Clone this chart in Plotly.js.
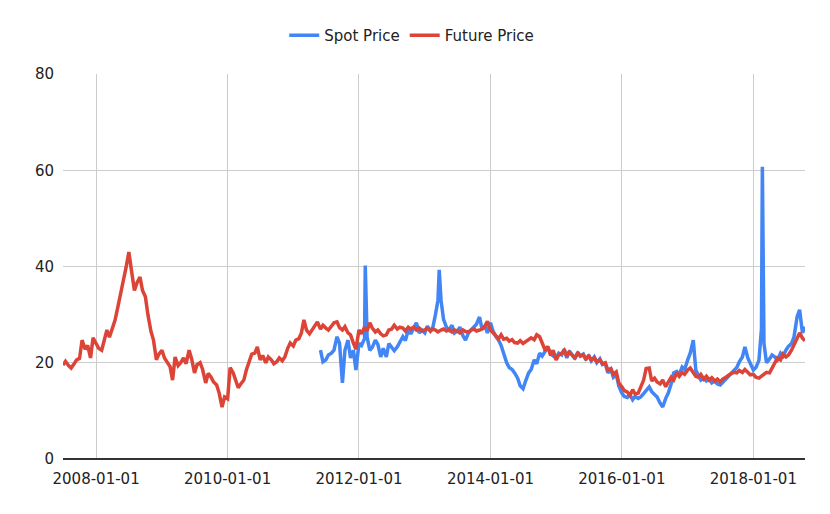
<!DOCTYPE html>
<html>
<head>
<meta charset="utf-8">
<script src="https://cdn.plot.ly/plotly-3.0.1.min.js"></script>
<style>
  html, body { margin: 0; padding: 0; background: #fff; }
  #chart { width: 830px; height: 514px; }
</style>
</head>
<body>
<div id="chart"></div>
<script>
const futureStart = [2007, 7];
const futureValues = [
  19.5, 20.3, 19.4, 18.9, 19.8, 20.6, 20.9, 24.7, 22.8, 23.6, 21.0, 25.2,
  24.0, 23.0, 22.6, 24.8, 26.8, 25.3, 27.4, 28.8, 31.6, 34.5, 37.2, 39.7, 43.0, 39.3, 35.0, 36.6, 37.8, 35.0, 33.7, 30.0, 26.5, 24.7, 20.6, 21.8,
  22.6, 21.0, 20.0, 19.2, 16.4, 21.2, 19.4, 20.0, 21.0, 19.8, 22.6, 20.8, 17.9, 19.6, 20.0, 18.6, 15.8, 17.8, 17.0, 16.0, 15.4, 13.7, 10.8, 12.9,
  12.5, 19.0, 17.9, 16.5, 14.8, 15.6, 16.4, 18.5, 20.0, 21.8, 22.0, 23.3, 20.6, 21.5, 20.0, 21.2, 20.6, 19.8, 20.2, 21.0, 20.4, 21.2, 23.0, 24.1,
  23.5, 24.7, 25.0, 26.2, 28.9, 26.8, 26.0, 26.8, 27.5, 28.5, 27.0, 27.8, 27.2, 26.8, 27.6, 28.3, 28.5, 27.3, 26.8, 27.5, 26.2, 25.8, 24.1, 22.8,
  26.8, 26.0, 27.4, 26.6, 28.3, 27.2, 26.4, 26.8, 26.0, 25.6, 25.8, 26.8, 27.0, 27.8, 27.0, 27.4, 27.2, 26.6, 27.4, 27.0, 27.4, 26.8, 27.2, 26.6,
  26.8, 27.2, 26.6, 27.0, 26.8, 26.4, 26.8, 27.0, 26.6, 26.9, 26.4, 26.8, 26.6, 26.2, 26.8, 26.5, 26.4, 26.8, 27.0, 26.6, 26.8, 27.0, 27.6, 28.6,
  26.8, 26.2, 25.4, 25.0, 25.8, 24.9, 25.1, 24.5, 24.8, 24.2, 24.1, 24.6, 24.0, 24.4, 24.7, 25.2, 24.8, 25.8, 25.4, 24.0, 22.6, 23.4, 21.5, 22.6,
  20.6, 21.6, 22.0, 22.6, 21.4, 22.2, 21.6, 21.0, 22.0, 21.4, 21.6, 20.8, 21.4, 20.6, 21.0, 20.2, 20.6, 19.8, 20.0, 18.5, 18.8, 17.6, 18.1, 15.8,
  15.0, 14.2, 13.9, 13.2, 14.4, 13.5, 13.7, 14.8, 16.4, 18.8, 18.9, 16.2, 16.8, 16.0, 15.6, 16.4, 15.0, 16.0, 17.0, 16.4, 17.9, 17.2, 18.0, 17.6,
  18.5, 18.9, 17.8, 17.2, 17.0, 17.6, 16.6, 17.2, 16.4, 16.9, 16.2, 16.6, 16.0, 16.6, 17.0, 17.4, 17.8, 18.0, 17.9, 18.4, 18.0, 18.6, 18.1, 17.5,
  17.6, 17.0, 16.8, 17.2, 17.6, 18.0, 17.9, 19.0, 20.2, 21.0, 20.6, 21.8, 21.2, 21.6, 22.6, 23.8, 25.4, 26.2, 25.1, 24.6
];

const spotStart = [2011, 6];
const spotValues = [
  22.6, 20.2, 20.6, 21.6, 22.0, 22.6, 25.4, 24.0, 15.8, 22.6, 24.7, 21.0, 22.6, 18.5,
  24.0, 23.6, 25.0, 25.4, 22.6, 23.2, 24.7, 23.8, 21.2, 23.0, 21.2, 24.0, 23.3, 22.5, 23.3, 24.4, 25.4, 24.6, 26.8, 26.0, 27.2, 28.3, 26.2, 26.8,
  26.2, 27.6, 26.6, 27.4, 30.0, 33.0, 33.0, 29.0, 27.4, 26.8, 27.8, 26.2, 26.6, 27.4, 25.6, 24.7, 26.2, 26.8, 27.4, 28.0, 29.5, 27.0, 27.6, 26.2,
  28.3, 26.6, 25.4, 24.7, 23.6, 22.0, 20.0, 19.0, 18.6, 17.9, 16.8, 15.2, 14.6, 16.2, 17.9, 18.6, 20.6, 19.8, 22.0, 21.4, 22.6, 23.2, 22.0, 21.4,
  21.0, 22.0, 21.6, 22.8, 21.0, 22.4, 21.6, 20.8, 22.2, 21.4, 21.8, 20.6, 21.6, 20.4, 21.2, 20.0, 20.8, 19.6, 19.8, 17.9, 18.6, 17.0, 17.6, 15.2,
  13.7, 13.0, 12.8, 13.4, 12.3, 13.0, 12.6, 12.9, 13.6, 14.2, 15.0, 14.0, 13.4, 12.9, 11.6, 10.8, 12.6, 13.7, 15.6, 17.9, 18.2, 17.6, 19.1, 18.6,
  20.6, 22.0, 24.7, 18.5, 17.4, 16.4, 16.8, 16.2, 16.6, 15.8, 16.2, 15.6, 15.4, 16.0, 16.6, 17.2, 17.9, 18.4, 19.0, 20.2, 21.2, 23.3, 21.0, 20.0,
  18.5, 19.0, 20.5, 27.0, 24.0, 20.0, 20.8, 21.6, 21.2, 20.6, 22.0, 21.4, 22.6, 23.4, 24.0, 25.4, 29.5, 31.0, 26.2, 27.5
];

// short spot spikes between the regular samples
const spotSpikeDates = ['2012-02-05', '2013-03-22', '2018-02-20'];
const spotSpikeValues = [40.2, 39.3, 60.7];

const xTicks = ['2008-01-01', '2010-01-01', '2012-01-01', '2014-01-01', '2016-01-01', '2018-01-01'];

function halfMonthDates(start, count) {
  const out = [];
  let y = start[0], m = start[1];
  for (let i = 0; i < count; i++) {
    const day = i % 2 === 0 ? '01' : '15';
    out.push(y + '-' + String(m).padStart(2, '0') + '-' + day);
    if (i % 2 === 1) {
      m++;
      if (m > 12) { m = 1; y++; }
    }
  }
  return out;
}

function withSpikes(dates, values, spikeDates, spikeValues) {
  const pts = dates.map((d, i) => [d, values[i]]);
  spikeDates.forEach((d, i) => pts.push([d, spikeValues[i]]));
  pts.sort((a, b) => (a[0] < b[0] ? -1 : a[0] > b[0] ? 1 : 0));
  return { x: pts.map(p => p[0]), y: pts.map(p => p[1]) };
}

const spot = withSpikes(halfMonthDates(spotStart, spotValues.length), spotValues, spotSpikeDates, spotSpikeValues);

const traces = [
  {
    x: spot.x,
    y: spot.y,
    name: 'Spot Price',
    type: 'scatter',
    mode: 'lines',
    line: { color: '#4285F4', width: 3.5 },
    hoverinfo: 'skip'
  },
  {
    x: halfMonthDates(futureStart, futureValues.length),
    y: futureValues,
    name: 'Future Price',
    type: 'scatter',
    mode: 'lines',
    line: { color: '#DB4437', width: 3.5 },
    hoverinfo: 'skip'
  }
];

const layout = {
  width: 830,
  height: 514,
  paper_bgcolor: '#fff',
  plot_bgcolor: '#fff',
  font: { family: 'DejaVu Sans, Verdana, sans-serif', size: 15, color: '#222' },
  margin: { l: 63, r: 25, t: 74, b: 55 },
  showlegend: true,
  legend: {
    orientation: 'h',
    x: 0.47,
    xanchor: 'center',
    y: 1.1,
    yanchor: 'middle',
    font: { size: 15, color: '#222' },
    itemwidth: 30
  },
  xaxis: {
    type: 'date',
    range: ['2007-07-01', '2018-10-15'],
    tickvals: xTicks,
    ticktext: xTicks,
    showgrid: true,
    gridcolor: '#cccccc',
    gridwidth: 1,
    showline: false,
    zeroline: false,
    ticks: '',
    ticklabelstandoff: 9,
    tickfont: { size: 15, color: '#222' }
  },
  yaxis: {
    range: [0, 80],
    tickvals: [0, 20, 40, 60, 80],
    showgrid: true,
    gridcolor: '#cccccc',
    gridwidth: 1,
    zeroline: true,
    zerolinecolor: '#333333',
    zerolinewidth: 1.5,
    showline: false,
    ticks: '',
    ticklabelstandoff: 8,
    tickfont: { size: 15, color: '#222' }
  }
};

Plotly.newPlot('chart', traces, layout, { displayModeBar: false, staticPlot: true });
</script>
</body>
</html>
